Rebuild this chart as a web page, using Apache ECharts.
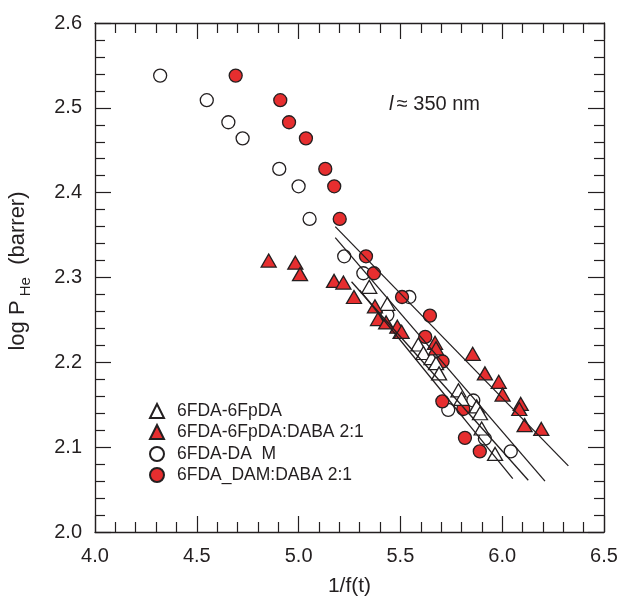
<!DOCTYPE html>
<html>
<head>
<meta charset="utf-8">
<script src="https://cdn.jsdelivr.net/npm/echarts@6/dist/echarts.min.js"></script>
<style>html,body{margin:0;padding:0;background:#fff}#c{width:623px;height:604px}</style>
</head>
<body>
<div id="c"></div>
<script>
// ---- data ----
const seriesNames = ['6FDA-6FpDA', '6FDA-6FpDA:DABA 2:1', '6FDA-DA  M', '6FDA_DAM:DABA 2:1'];
const openTri = [[5.347,2.289],[5.436,2.269],[5.501,2.236],[5.588,2.221],[5.613,2.211],[5.653,2.205],[5.675,2.199],[5.690,2.187],[5.785,2.167],[5.800,2.157],[5.875,2.148],[5.891,2.140],[5.899,2.122],[5.965,2.092]];
const redTri = [[4.853,2.320],[4.984,2.3175],[5.007,2.304],[5.174,2.296],[5.220,2.294],[5.272,2.277],[5.375,2.266],[5.390,2.251],[5.430,2.247],[5.485,2.242],[5.506,2.236],[5.670,2.223],[5.675,2.2165],[5.855,2.210],[5.915,2.187],[5.983,2.177],[6.002,2.162],[6.091,2.151],[6.084,2.145],[6.110,2.126],[6.192,2.1215]];
const openCirc = [[4.320,2.538],[4.549,2.509],[4.655,2.483],[4.725,2.464],[4.905,2.428],[5.000,2.4075],[5.054,2.369],[5.224,2.325],[5.318,2.305],[5.436,2.256],[5.544,2.277],[5.680,2.2035],[5.735,2.144],[5.858,2.155],[5.915,2.110],[6.042,2.095]];
const redCirc = [[4.691,2.538],[4.910,2.509],[4.953,2.483],[5.036,2.464],[5.131,2.428],[5.175,2.4075],[5.202,2.369],[5.331,2.325],[5.370,2.305],[5.508,2.277],[5.645,2.255],[5.622,2.230],[5.707,2.201],[5.706,2.154],[5.809,2.145],[5.817,2.111],[5.890,2.095]];
const fitLine1 = [[5.18,2.360],[6.325,2.078]];
const fitLine2 = [[5.18,2.347],[6.210,2.060]];
const fitLine3 = [[5.26,2.295],[6.128,2.061]];
const fitLine4 = [[5.30,2.285],[6.052,2.063]];
const xTicks = {min:4.0, max:6.5, step:0.5};
const yTicks = {min:2.0, max:2.6, step:0.1};
const annotation = '≈ 350 nm';

const RED = '#e62e2f';
const EDGE = '#231f20';
const FONT = '"Liberation Sans", Arial, Helvetica, sans-serif';

const chart = echarts.init(document.getElementById('c'), null, {renderer:'canvas'});

function xAx(pos, show){
  return {type:'value', position:pos, min:xTicks.min, max:xTicks.max, interval:xTicks.step,
    axisLine:{show:true, onZero:false, lineStyle:{color:EDGE, width:1.3}},
    axisTick:{show:true, inside:true, length:16, lineStyle:{color:EDGE, width:1.2}},
    minorTick:{show:true, splitNumber:5, length:10, lineStyle:{color:EDGE, width:1.2}},
    splitLine:{show:false}, minorSplitLine:{show:false},
    axisLabel:{show:show, fontSize:20, color:EDGE, fontFamily:FONT, margin:14, formatter:v=>v.toFixed(1)},
    name: show ? '1/f(t)' : '', nameLocation:'middle', nameGap:44,
    nameTextStyle:{fontSize:21, color:EDGE, fontFamily:FONT}};
}
function yAx(pos, show){
  return {type:'value', position:pos, min:yTicks.min, max:yTicks.max, interval:yTicks.step,
    axisLine:{show:true, onZero:false, lineStyle:{color:EDGE, width:1.3}},
    axisTick:{show:true, inside:true, length:16, lineStyle:{color:EDGE, width:1.2}},
    minorTick:{show:true, splitNumber:5, length:10, lineStyle:{color:EDGE, width:1.2}},
    splitLine:{show:false}, minorSplitLine:{show:false},
    axisLabel:{show:show, fontSize:20, color:EDGE, fontFamily:FONT, margin:13, formatter:v=>v.toFixed(1)}};
}

function scatter(name, data, symbol, fill, size){
  return {type:'scatter', name:name, data:data, symbol:symbol, symbolSize:size, z:3,
    itemStyle:{color:fill, borderColor:EDGE, borderWidth:1.3, opacity:1}, silent:true};
}
function fit(data){
  return {type:'line', data:data, symbol:'none', z:4, silent:true, lineStyle:{color:EDGE, width:1.3}};
}
const legendTops = [402, 423, 445, 466];
const legends = seriesNames.map((n,i)=>({
  data:[n], orient:'vertical', left:149, top:legendTops[i], padding:0,
  itemWidth:14, itemHeight:14, itemGap:0, selectedMode:false,
  textStyle:{fontSize:17.5, color:EDGE, fontFamily:FONT, padding:[0,0,0,8]}
}));

chart.setOption({
  animation:false,
  backgroundColor:'#fff',
  grid:{left:95, right:19, top:23, bottom:72, containLabel:false},
  xAxis:[xAx('bottom', true), xAx('top', false)],
  yAxis:[yAx('left', true), yAx('right', false)],
  legend: legends,
  series:[
    scatter(seriesNames[2], openCirc, 'circle', '#ffffff', 13),
    scatter(seriesNames[3], redCirc, 'circle', RED, 13),
    scatter(seriesNames[0], openTri, 'triangle', '#ffffff', [15,13]),
    scatter(seriesNames[1], redTri, 'triangle', RED, [15,13]),
    fit(fitLine1), fit(fitLine2), fit(fitLine3), fit(fitLine4)
  ],
  graphic:[
    {type:'text', x:20, y:271, rotation:Math.PI/2,
      style:{text:'{a|log P}{b| He}{a|  (barrer)}', align:'center', verticalAlign:'middle',
        rich:{a:{fontSize:22, fontFamily:FONT, fill:EDGE, verticalAlign:'bottom', padding:[0,0,5,0]},
              b:{fontSize:15, fontFamily:FONT, fill:EDGE, verticalAlign:'bottom'}}}},
    {type:'text', x:389, y:104,
      style:{text:'{i|l} {t|'+annotation+'}', verticalAlign:'middle', align:'left',
        rich:{i:{fontSize:20, fontStyle:'italic', fontFamily:FONT, fill:EDGE},
              t:{fontSize:20, fontFamily:FONT, fill:EDGE}}}}
  ]
});
</script>
</body>
</html>
